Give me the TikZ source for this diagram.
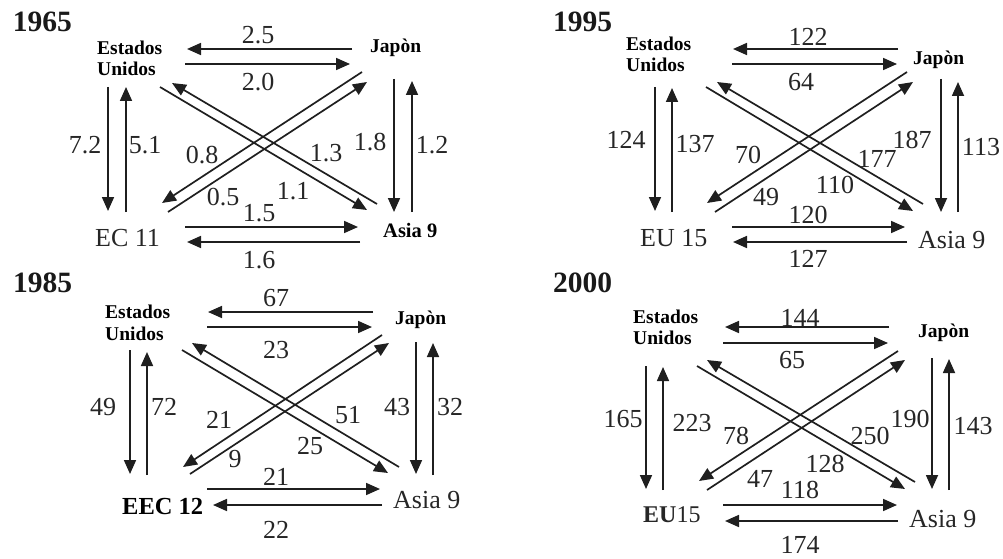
\documentclass[tikz,border=0pt]{standalone}
\usepackage{fontspec}
\setmainfont{Liberation Serif}
\usetikzlibrary{arrows.meta}
\newcommand\myarrow[3]{\coordinate (#1s) at #2; \coordinate (#1e) at #3; \draw[arr] (#1s) -- (#1e);}
\tikzset{
  arr/.style={line width=1.7pt, draw=black!88, -{Triangle[length=14pt,width=12pt]}},
  num/.style={inner sep=0pt, anchor=center, text=black!85, font=\fontsize{26}{26}\selectfont},
  yr/.style={inner sep=0pt, anchor=base west, text=black!90, font=\fontsize{29.5}{30}\selectfont\bfseries},
  bname/.style={inner sep=0pt, anchor=base west, text=black, font=\fontsize{19.5}{21}\selectfont\bfseries, align=left},
  rname/.style={inner sep=0pt, anchor=base west, text=black!85, font=\fontsize{26}{26}\selectfont}
}
\begin{document}
\begin{tikzpicture}[x=1pt,y=-1pt]
\useasboundingbox (0,0) rectangle (1003,559);
% ===== 1965 =====
\node[yr] (y1) at (12.7,31.7) {1965};
\node[bname] (us1a) at (97,55) {Estados};
\node[bname] (us1b) at (97,76) {Unidos};
\node[bname] (jp1) at (370,53) {Japòn};
\node[rname] (ec1) at (95,246) {EC 11};
\node[bname, font=\fontsize{20.5}{21}\selectfont\bfseries] (as1) at (383,237) {Asia 9};
\myarrow{a1ju}{(352,49)}{(187,49)}
\myarrow{a1uj}{(185,64)}{(350,64)}
\myarrow{a1ue}{(108,87)}{(108,211)}
\myarrow{a1eu}{(126,212)}{(126,87)}
\myarrow{a1ja}{(394,79)}{(394,212)}
\myarrow{a1aj}{(412,212)}{(412,81)}
\myarrow{a1ea}{(185,227)}{(358,227)}
\myarrow{a1ae}{(360,242)}{(187,242)}
\myarrow{a1ua}{(160,87)}{(367,210)}
\myarrow{a1au}{(377,204)}{(172,83)}
\myarrow{a1je}{(362,72)}{(162,203)}
\myarrow{a1ej}{(168,212)}{(367,82)}
\node[num] (n1a) at (258,35) {2.5};
\node[num] (n1b) at (258,82) {2.0};
\node[num] (n1c) at (85,145) {7.2};
\node[num] (n1d) at (145,145) {5.1};
\node[num] (n1e) at (370,142) {1.8};
\node[num] (n1f) at (432,145) {1.2};
\node[num] (n1g) at (259,213) {1.5};
\node[num] (n1h) at (259,260) {1.6};
\node[num] (n1i) at (202,155) {0.8};
\node[num] (n1j) at (326,153) {1.3};
\node[num] (n1k) at (223,197) {0.5};
\node[num] (n1l) at (293,191) {1.1};
% ===== 1995 =====
\node[yr] (y2) at (553,31.7) {1995};
\node[bname] (us2a) at (626,50.7) {Estados};
\node[bname] (us2b) at (626,71.7) {Unidos};
\node[bname] (jp2) at (913,65) {Japòn};
\node[rname] (ec2) at (640,246) {EU 15};
\node[rname] (as2) at (918,248) {Asia 9};
\myarrow{a2ju}{(898,49)}{(733,49)}
\myarrow{a2uj}{(732,64)}{(897,64)}
\myarrow{a2ue}{(655,87)}{(655,211)}
\myarrow{a2eu}{(672,212)}{(672,88)}
\myarrow{a2ja}{(941,79)}{(941,212)}
\myarrow{a2aj}{(958,212)}{(958,82)}
\myarrow{a2ea}{(732,227)}{(905,227)}
\myarrow{a2ae}{(907,242)}{(733,242)}
\myarrow{a2ua}{(706,87)}{(913,211)}
\myarrow{a2au}{(923,204)}{(717,82)}
\myarrow{a2je}{(907,72)}{(707,203)}
\myarrow{a2ej}{(715,212)}{(913,82)}
\node[num] (n2a) at (808,37) {122};
\node[num] (n2b) at (801,82) {64};
\node[num] (n2c) at (626,140) {124};
\node[num] (n2d) at (695,144) {137};
\node[num] (n2e) at (912,140) {187};
\node[num] (n2f) at (981,147) {113};
\node[num] (n2g) at (808,215) {120};
\node[num] (n2h) at (808,259) {127};
\node[num] (n2i) at (748,155) {70};
\node[num] (n2j) at (877,159) {177};
\node[num] (n2k) at (766,197) {49};
\node[num] (n2l) at (835,185) {110};
% ===== 1985 =====
\node[yr] (y3) at (13,292) {1985};
\node[bname] (us3a) at (105,318.3) {Estados};
\node[bname] (us3b) at (105,340) {Unidos};
\node[bname] (jp3) at (395,324.3) {Japòn};
\node[rname, font=\fontsize{24.5}{25}\selectfont\bfseries, text=black] (ec3) at (122,514) {EEC 12};
\node[rname] (as3) at (393,508.3) {Asia 9};
\myarrow{a3ju}{(373,312)}{(208,312)}
\myarrow{a3uj}{(207,327)}{(372,327)}
\myarrow{a3ue}{(130,350)}{(130,474)}
\myarrow{a3eu}{(147,475)}{(147,352)}
\myarrow{a3ja}{(416,342)}{(416,474)}
\myarrow{a3aj}{(433,475)}{(433,343)}
\myarrow{a3ea}{(207,489)}{(380,489)}
\myarrow{a3ae}{(382,505)}{(213,505)}
\myarrow{a3ua}{(182,350)}{(388,473)}
\myarrow{a3au}{(399,467)}{(192,343)}
\myarrow{a3je}{(382,335)}{(183,467)}
\myarrow{a3ej}{(190,474)}{(389,343)}
\node[num] (n3a) at (276,298.3) {67};
\node[num] (n3b) at (276,350.3) {23};
\node[num] (n3c) at (103,407) {49};
\node[num] (n3d) at (164,407) {72};
\node[num] (n3e) at (397,407) {43};
\node[num] (n3f) at (450,407) {32};
\node[num] (n3g) at (276,477) {21};
\node[num] (n3h) at (276,530) {22};
\node[num] (n3i) at (219,420) {21};
\node[num] (n3j) at (348,415) {51};
\node[num] (n3k) at (235,459) {9};
\node[num] (n3l) at (310,446) {25};
% ===== 2000 =====
\node[yr] (y4) at (553,292) {2000};
\node[bname] (us4a) at (633,323.3) {Estados};
\node[bname] (us4b) at (633,344.3) {Unidos};
\node[bname] (jp4) at (918,337.3) {Japòn};
\node[rname, font=\fontsize{24}{25}\selectfont] (ec4) at (643,522.3) {\textbf{EU}15};
\node[rname] (as4) at (909,527.3) {Asia 9};
\myarrow{a4ju}{(889,327)}{(725,327)}
\myarrow{a4uj}{(723,343)}{(888,343)}
\myarrow{a4ue}{(646,366)}{(646,489)}
\myarrow{a4eu}{(663,490)}{(663,367)}
\myarrow{a4ja}{(932,358)}{(932,489)}
\myarrow{a4aj}{(949,490)}{(949,359)}
\myarrow{a4ea}{(723,505)}{(897,505)}
\myarrow{a4ae}{(898,521)}{(725,521)}
\myarrow{a4ua}{(697,366)}{(905,489)}
\myarrow{a4au}{(915,482)}{(707,360)}
\myarrow{a4je}{(898,351)}{(699,481)}
\myarrow{a4ej}{(707,490)}{(905,360)}
\node[num] (n4a) at (800,317.5) {144};
\node[num] (n4b) at (792,360) {65};
\node[num] (n4c) at (623,419) {165};
\node[num] (n4d) at (692,423) {223};
\node[num] (n4e) at (910,419) {190};
\node[num] (n4f) at (973,426) {143};
\node[num] (n4g) at (800,490) {118};
\node[num] (n4h) at (800,545) {174};
\node[num] (n4i) at (736,436) {78};
\node[num] (n4j) at (870,436) {250};
\node[num] (n4k) at (760,479) {47};
\node[num] (n4l) at (825,464) {128};
\end{tikzpicture}
\end{document}
